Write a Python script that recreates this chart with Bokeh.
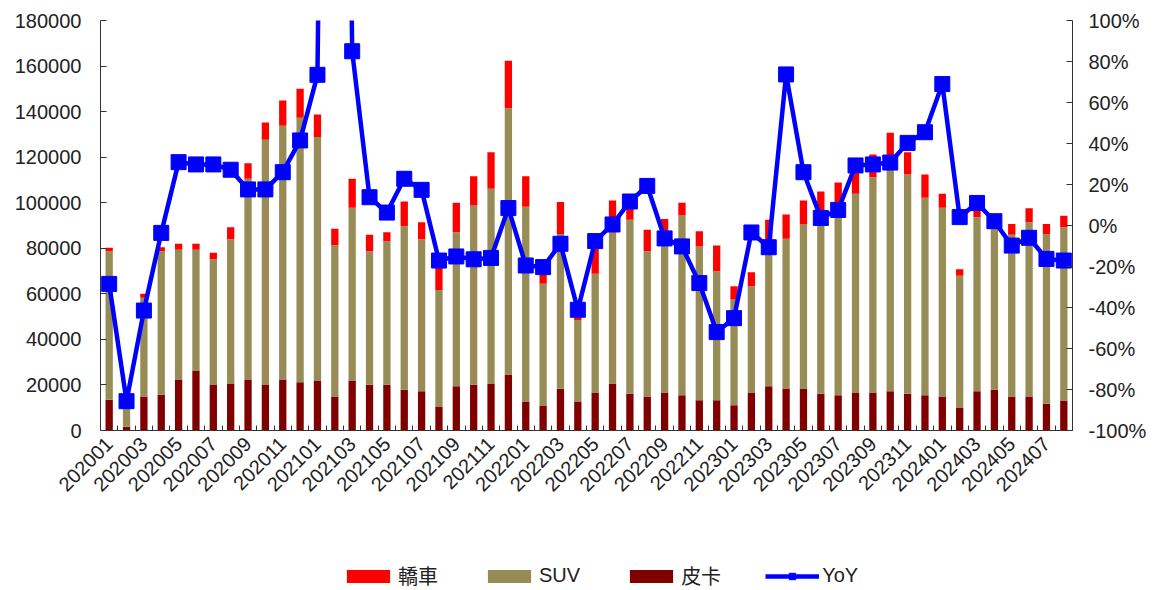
import math
from bokeh.plotting import figure
from bokeh.layouts import column
from bokeh.models import (ColumnDataSource, Range1d, LinearAxis, FixedTicker,
                          NumeralTickFormatter, Legend, LegendItem)
from bokeh.embed import file_html
from bokeh.resources import INLINE

months = ["202001", "202002", "202003", "202004", "202005", "202006", "202007", "202008",
          "202009", "202010", "202011", "202012", "202101", "202102", "202103", "202104",
          "202105", "202106", "202107", "202108", "202109", "202110", "202111", "202112",
          "202201", "202202", "202203", "202204", "202205", "202206", "202207", "202208",
          "202209", "202210", "202211", "202212", "202301", "202302", "202303", "202304",
          "202305", "202306", "202307", "202308", "202309", "202310", "202311", "202312",
          "202401", "202402", "202403", "202404", "202405", "202406", "202407", "202408"]

pickup = [13500, 1700, 14900, 15700, 22400, 26300, 20000, 20600,
          22400, 20000, 22400, 21200, 21950, 14900, 21950, 20050,
          20050, 17850, 17250, 10550, 19450, 20050, 20600, 24600,
          12750, 11000, 18300, 12750, 16700, 20600, 16100, 14900,
          16700, 15500, 13300, 13300, 11100, 16700, 19450, 18450,
          18450, 16100, 15500, 16700, 16700, 17250, 16100, 15500,
          14900, 10100, 17250, 17850, 14900, 14900, 11700, 13150]

suv = [65200, 7800, 43350, 63000, 56900, 53000, 55200, 63400,
       88100, 107600, 111350, 116100, 106850, 66450, 75800, 58650,
       63050, 71850, 66750, 51150, 67600, 78750, 85500, 116900,
       85450, 53400, 68000, 35750, 52100, 66450, 76400, 63800,
       69600, 78900, 67500, 56650, 46400, 46650, 58550, 65700,
       71950, 78900, 80500, 87200, 94500, 97350, 96300, 86650,
       82850, 57800, 76400, 71650, 71000, 76550, 74600, 76100]

sedan = [1500, 500, 1750, 1800, 2650, 2650, 2800, 5250,
         6850, 7600, 11150, 12700, 9900, 7200, 12750, 7200,
         3950, 10800, 7450, 10800, 12900, 12850, 16100, 20800,
         13450, 4600, 14050, 2200, 11600, 13950, 9000, 9400,
         6600, 5550, 6700, 11250, 5850, 6150, 14500, 10650,
         10600, 9900, 12900, 10600, 9950, 16100, 9800, 10250,
         6150, 2900, 3350, 2500, 4800, 6150, 4400, 5000]

yoy = [-0.285, -0.857, -0.415, -0.036, 0.309, 0.298, 0.298, 0.272,
       0.176, 0.176, 0.260, 0.415, 0.735, 7.90, 0.850, 0.138,
       0.063, 0.228, 0.174, -0.171, -0.151, -0.165, -0.158, 0.085,
       -0.195, -0.203, -0.089, -0.411, -0.076, 0.005, 0.117, 0.193,
       -0.063, -0.102, -0.281, -0.520, -0.452, -0.034, -0.106, 0.737,
       0.260, 0.037, 0.076, 0.293, 0.298, 0.307, 0.403, 0.455,
       0.690, 0.041, 0.110, 0.021, -0.098, -0.060, -0.163, -0.171]

RED = "#FF0000"
OLIVE = "#978B56"
DARK = "#800000"
BLUE = "#0000FF"
FONT = "Liberation Sans"
AXC = "#333333"
TXT = "#222222"
FS = "20px"

n = len(months)
xs = list(range(n))
src = ColumnDataSource(dict(x=xs, pickup=pickup, suv=suv, sedan=sedan, yoy=yoy))

W, H, LH = 1155, 540, 50
p = figure(width=W, height=H, output_backend="svg", toolbar_location=None,
           x_range=Range1d(-0.5, n - 0.5), y_range=Range1d(0, 180000),
           min_border_left=100, min_border_right=W - 1072, min_border_top=20,
           min_border_bottom=H - 430)
p.outline_line_color = None
p.xgrid.visible = False
p.ygrid.visible = False

p.extra_y_ranges = {"yoy": Range1d(-1, 1)}

bars = p.vbar_stack(["pickup", "suv", "sedan"], x="x", width=0.42,
                    color=[DARK, OLIVE, RED], line_width=0, source=src)

ln = p.line("x", "yoy", y_range_name="yoy", line_color=BLUE, line_width=4.5, source=src)
sq = p.scatter("x", "yoy", y_range_name="yoy", marker="square", size=15,
               fill_color=BLUE, line_color=BLUE, source=src)

xa = p.xaxis[0]
xa.ticker = FixedTicker(ticks=xs[::2], minor_ticks=[i - 0.5 for i in range(n + 1)])
xa.major_label_overrides = {i: months[i] for i in xs[::2]}
xa.major_label_orientation = math.pi / 4
xa.major_tick_line_color = None
xa.minor_tick_in = 5
xa.minor_tick_out = 0
xa.minor_tick_line_color = AXC
xa.axis_line_color = AXC
xa.major_label_text_font = FONT
xa.major_label_text_font_size = FS
xa.major_label_text_color = TXT
xa.major_label_standoff = 4

ya = p.yaxis[0]
ya.ticker = FixedTicker(ticks=list(range(0, 180001, 20000)))
ya.formatter = NumeralTickFormatter(format="0")
ya.major_tick_in = 6
ya.major_tick_out = 0
ya.minor_tick_line_color = None
ya.axis_line_color = AXC
ya.major_tick_line_color = AXC
ya.major_label_text_font = FONT
ya.major_label_text_font_size = FS
ya.major_label_text_color = TXT
ya.major_label_standoff = 19

ra = LinearAxis(y_range_name="yoy",
                ticker=FixedTicker(ticks=[round(-1 + 0.2 * k, 1) for k in range(11)]),
                formatter=NumeralTickFormatter(format="0%"))
ra.major_tick_in = 6
ra.major_tick_out = 0
ra.minor_tick_line_color = None
ra.axis_line_color = AXC
ra.major_tick_line_color = AXC
ra.major_label_text_font = FONT
ra.major_label_text_font_size = FS
ra.major_label_text_color = TXT
ra.major_label_standoff = 16
p.add_layout(ra, "right")

# legend strip below the chart: key glyphs reuse the same data, kept out of view
lf = figure(width=W, height=LH, output_backend="svg", toolbar_location=None,
            x_range=Range1d(-0.5, n - 0.5), y_range=Range1d(1e9, 2e9), min_border=0,
            x_axis_location=None, y_axis_location=None)
lf.outline_line_color = None
lf.xgrid.visible = False
lf.ygrid.visible = False
k_sedan = lf.vbar(x="x", top="sedan", width=0.42, color=RED, line_width=0, source=src)
k_suv = lf.vbar(x="x", top="suv", width=0.42, color=OLIVE, line_width=0, source=src)
k_pick = lf.vbar(x="x", top="pickup", width=0.42, color=DARK, line_width=0, source=src)
k_line = lf.line(x="x", y="yoy", line_color=BLUE, line_width=4.5, source=src)
k_sq = lf.scatter(x="x", y="yoy", marker="square", size=15, fill_color=BLUE,
                  line_color=BLUE, source=src)

legend = Legend(items=[LegendItem(label="轎車", renderers=[k_sedan]),
                       LegendItem(label="SUV", renderers=[k_suv]),
                       LegendItem(label="皮卡", renderers=[k_pick]),
                       LegendItem(label="YoY", renderers=[k_line, k_sq])],
                orientation="horizontal", location=(241, 0),
                glyph_width=54, glyph_height=16, label_height=16,
                label_standoff=3, spacing=44, padding=0, margin=0,
                border_line_color=None, background_fill_alpha=0,
                label_text_font="Liberation Sans, Noto Sans CJK TC",
                label_text_font_size=FS, label_text_color=TXT)
lf.add_layout(legend, "center")

layout = column(p, lf, spacing=0)
open("out.html", "w").write(file_html(layout, INLINE))
